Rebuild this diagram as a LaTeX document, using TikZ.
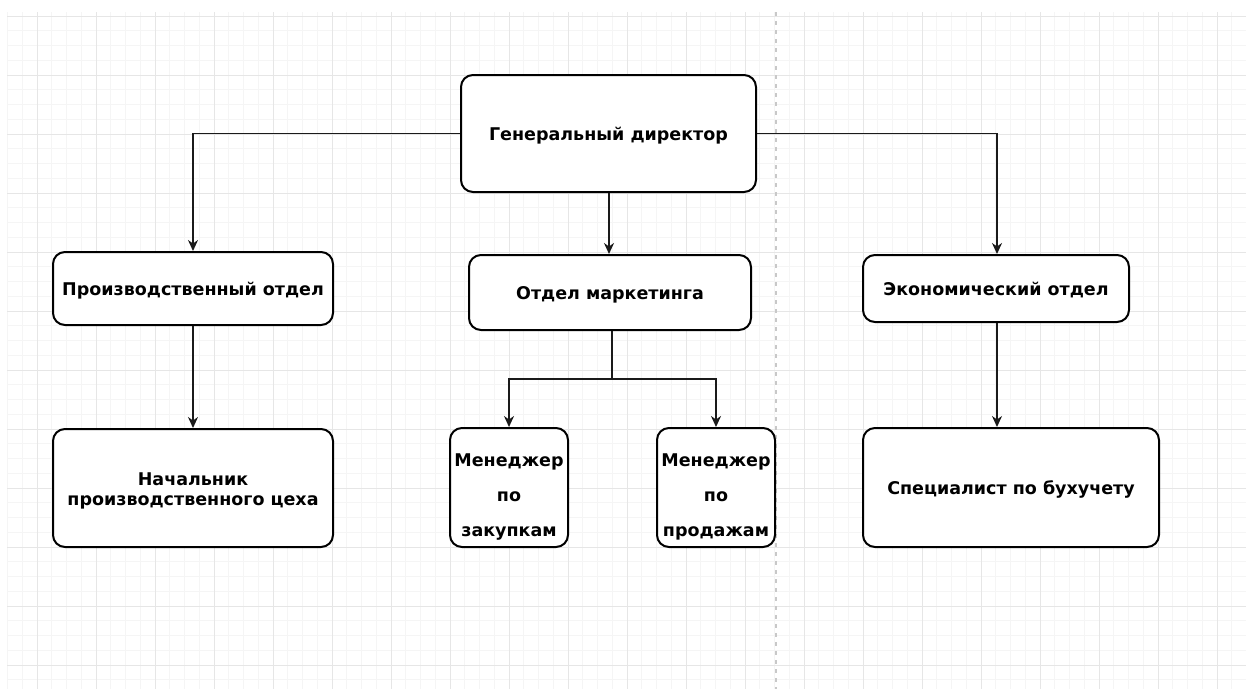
\documentclass[tikz,border=0pt]{standalone}
\usepackage{fontspec}
\setmainfont{DejaVu Sans}
\usetikzlibrary{arrows.meta}
\definecolor{gridminor}{HTML}{F5F5F5}
\definecolor{gridmajor}{HTML}{E6E6E6}
\definecolor{dashgray}{HTML}{C8C8C8}
\definecolor{conn}{HTML}{1A1A1A}
\tikzset{
  box/.style={draw=black, line width=2pt, rounded corners=12pt, fill=white,
    align=center, inner sep=0pt, font=\bfseries\fontsize{17.5}{20}\selectfont},
  oneline/.style={text height=15.5pt, text depth=1.5pt},
  arr/.style={draw=conn, line width=1.5pt,
    -{Stealth[length=11pt,width=10pt,inset=3.5pt]}},
  gminor/.style={draw=gridminor, line width=0.8pt},
  gmajor/.style={draw=gridmajor, line width=1pt},
}
\begin{document}
\begin{tikzpicture}[x=1pt,y=-1pt]
\useasboundingbox (0,0) rectangle (1246,689);
\fill[white] (0,0) rectangle (1246,689);
% grid
\begin{scope}
\clip (7,12) rectangle (1246,689);
\foreach \i in {0,...,83} { \draw[gminor] ({7.5+14.75*\i},12) -- ({7.5+14.75*\i},689); }
\foreach \i in {0,...,45} { \draw[gminor] (7,{16+14.75*\i}) -- (1246,{16+14.75*\i}); }
\foreach \i in {0,...,20} { \draw[gmajor] ({37+59*\i},12) -- ({37+59*\i},689); }
\foreach \i in {0,...,11} { \draw[gmajor] (7,{16+59*\i}) -- (1246,{16+59*\i}); }
\end{scope}
\draw[dashgray, line width=1.5pt, dash pattern=on 4pt off 5pt] (776,12) -- (776,689);
% nodes
\node[box, oneline, minimum width=295pt, minimum height=117pt] (gd) at (608.5,133.5) {Генеральный директор};
\node[box, oneline, minimum width=280pt, minimum height=73pt] (pd) at (193,288.5) {Производственный отдел};
\node[box, oneline, minimum width=282pt, minimum height=75pt] (om) at (610,292.5) {Отдел маркетинга};
\node[box, oneline, minimum width=266pt, minimum height=67pt] (ed) at (996,288.5) {Экономический отдел};
\node[box, text height=36pt, text depth=2pt, minimum width=280pt, minimum height=118pt] (nc) at (193,488) {Начальник\\производственного цеха};
\node[box, text height=99pt, text depth=2pt, minimum width=118pt, minimum height=119pt, font=\bfseries\fontsize{17.5}{35}\selectfont] (mz) at (509,487.5) {Менеджер\\по\\закупкам};
\node[box, text height=99pt, text depth=2pt, minimum width=118pt, minimum height=119pt, font=\bfseries\fontsize{17.5}{35}\selectfont] (mp) at (716,487.5) {Менеджер\\по\\продажам};
\node[box, oneline, minimum width=296pt, minimum height=119pt] (sb) at (1011,487.5) {Специалист по бухучету};
% connectors
\coordinate (jn) at ([xshift=2pt,yshift=-48pt]om.south);
\draw[arr] (gd.west) -| (pd.north);
\draw[arr] (gd.east) -| ([xshift=1pt]ed.north);
\draw[arr] ([xshift=0.5pt]gd.south) -- ([xshift=0.5pt]gd.south |- om.north);
\draw[arr] (pd.south) -- (nc.north);
\draw[arr] ([xshift=1pt]ed.south) -- ([xshift=1pt]ed.south |- sb.north);
\draw[arr] (om.south -| jn) -- (jn) -| (mz.north);
\draw[arr] (jn) -| (mp.north);
\end{tikzpicture}
\end{document}
